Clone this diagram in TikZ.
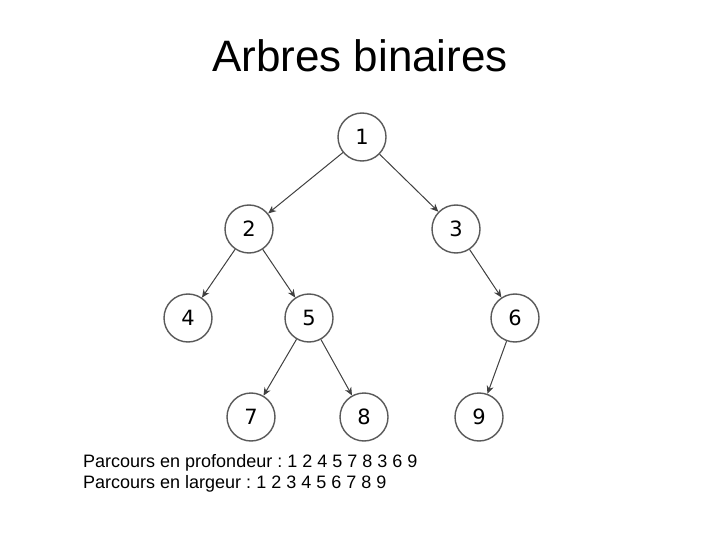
\documentclass[tikz,border=0pt]{standalone}
\usepackage{fontspec}
\setmainfont{Liberation Sans}
\newfontfamily\digitfont{DejaVu Sans}
\usetikzlibrary{arrows.meta, positioning}
\tikzset{
  vertex/.style={circle, draw=black!65, line width=1.4pt, minimum size=48pt, inner sep=0pt,
    text height=15.3pt, text depth=0pt, font=\digitfont\fontsize{21}{21}\selectfont},
  edge/.style={->, draw=black!75, line width=1pt}
}
\frenchspacing
\begin{document}
\begin{tikzpicture}[x=1pt, y=-1pt, >={Stealth[length=8pt,width=7pt]}]
  \useasboundingbox (0,0) rectangle (720,540);
  \node[font=\fontsize{44}{48}\selectfont] (title) at (360,56) {Arbres binaires};
  % les noeuds
  \node[vertex] (n1) at (362,137) {1};
  \node[vertex] (n2) at (249,229) {2};
  \node[vertex] (n3) at (456,229) {3};
  \node[vertex] (n4) at (188,318) {4};
  \node[vertex] (n5) at (309,318) {5};
  \node[vertex] (n6) at (515,318) {6};
  \node[vertex] (n7) at (251,417) {7};
  \node[vertex] (n8) at (364,417) {8};
  \node[vertex] (n9) at (479,417) {9};
  % les aretes
  \draw[edge] (n1) -- (n2);
  \draw[edge] (n1) -- (n3);
  \draw[edge] (n2) -- (n4);
  \draw[edge] (n2) -- (n5);
  \draw[edge] (n3) -- (n6);
  \draw[edge] (n5) -- (n7);
  \draw[edge] (n5) -- (n8);
  \draw[edge] (n6) -- (n9);
  % les parcours
  \node[anchor=base west, inner sep=0pt, font=\fontsize{18}{21}\selectfont] (dfs) at (83,467) {Parcours en profondeur : 1 2 4 5 7 8 3 6 9};
  \node[anchor=base west, inner sep=0pt, font=\fontsize{18}{21}\selectfont] (bfs) at (83,488) {Parcours en largeur : 1 2 3 4 5 6 7 8 9};
\end{tikzpicture}
\end{document}
